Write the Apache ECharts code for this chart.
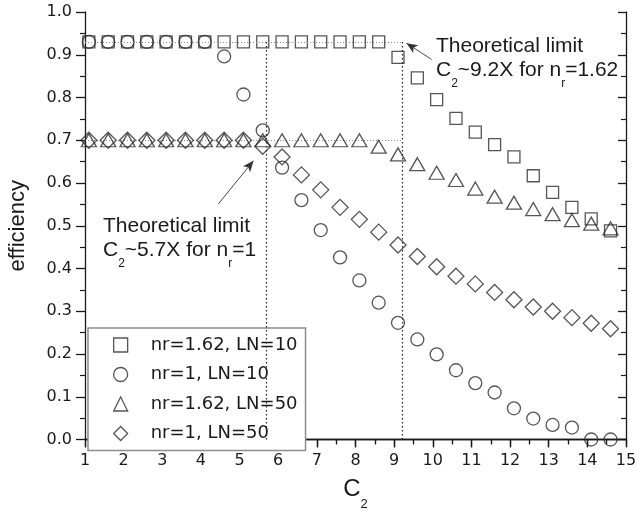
<!DOCTYPE html>
<html>
<head>
<meta charset="utf-8">
<script src="https://cdn.jsdelivr.net/npm/echarts@6/dist/echarts.min.js"></script>
<style>html,body{margin:0;padding:0;background:#fff}#c{width:636px;height:518px}</style>
</head>
<body>
<div id="c"></div>
<script>
// C2 sample positions
const c2Values = [1.1,1.6,2.1,2.6,3.1,3.6,4.1,4.6,5.1,5.6,6.1,6.6,7.1,7.6,8.1,8.6,9.1,9.6,10.1,10.6,11.1,11.6,12.1,12.6,13.1,13.6,14.1,14.6];
// nr=1.62, LN=10 (squares)
const effNr162LN10 = [0.93,0.93,0.93,0.93,0.93,0.93,0.93,0.93,0.93,0.93,0.93,0.93,0.93,0.93,0.93,0.93,0.894,0.846,0.795,0.751,0.719,0.690,0.661,0.617,0.578,0.543,0.516,0.488];
// nr=1, LN=10 (circles)
const effNr1LN10 = [0.93,0.93,0.93,0.93,0.93,0.93,0.93,0.896,0.807,0.723,0.636,0.560,0.490,0.426,0.372,0.320,0.273,0.234,0.199,0.162,0.132,0.110,0.073,0.049,0.034,0.028,0.0,0.0];
// nr=1.62, LN=50 (triangles)
const effNr162LN50 = [0.70,0.70,0.70,0.70,0.70,0.70,0.70,0.70,0.70,0.70,0.70,0.70,0.70,0.70,0.70,0.685,0.667,0.644,0.624,0.607,0.587,0.568,0.554,0.539,0.527,0.513,0.505,0.494];
// nr=1, LN=50 (diamonds)
const effNr1LN50 = [0.70,0.70,0.70,0.70,0.70,0.70,0.70,0.70,0.70,0.686,0.661,0.619,0.584,0.543,0.515,0.485,0.455,0.428,0.404,0.382,0.364,0.344,0.327,0.310,0.300,0.285,0.272,0.259];

const seriesNames = ['nr=1.62, LN=10','nr=1, LN=10','nr=1.62, LN=50','nr=1, LN=50'];
const xTicks = [1,2,3,4,5,6,7,8,9,10,11,12,13,14,15];
const yTicks = [0,0.1,0.2,0.3,0.4,0.5,0.6,0.7,0.8,0.9,1.0];
const limitNr1 = 5.7, limitNr162 = 9.2;
const plateauNr162 = 0.93, plateauNr1 = 0.70;
// annotation arrows: [tail, head] in data coordinates
const arrowNr1 = [[4.45,0.551],[5.36,0.652]];
const arrowNr162 = [[9.97,0.889],[9.32,0.927]];

const INK = '#1a1a1a';
const chart = echarts.init(document.getElementById('c'), null, {renderer:'canvas'});
const pts = arr => c2Values.map((x,i)=>[x, arr[i]]);
const hollow = {color:'transparent', borderColor:'#2a2a2a', borderWidth:1.3};

const tickFont = {fontFamily:'DejaVu Sans', fontSize:16, color:INK};
const subRich = {
  t:{fontFamily:'Liberation Sans',fontSize:21,fill:INK,color:INK,lineHeight:24,verticalAlign:'top'},
  s:{fontFamily:'Liberation Sans',fontSize:12,fill:INK,color:INK,lineHeight:30,verticalAlign:'bottom'}
};

const option = {
  animation:false,
  backgroundColor:'#fff',
  grid:{left:85, right:10, top:12, bottom:78.5, outerBoundsMode:'none', containLabel:false},
  xAxis:[
    {type:'value', min:xTicks[0], max:xTicks[xTicks.length-1], interval:1, position:'bottom',
     axisLine:{lineStyle:{color:INK,width:1.3}},
     axisTick:{inside:false,length:7,lineStyle:{color:INK,width:1.3}},
     minorTick:{show:true,splitNumber:2,length:4,lineStyle:{color:INK,width:1.2}},
     axisLabel:{...tickFont, margin:13},
     splitLine:{show:false},
     name:'{c|C}{s|2}', nameLocation:'middle', nameGap:38,
     nameTextStyle:{rich:{c:{fontFamily:'Liberation Sans',fontSize:24,color:INK,lineHeight:28,verticalAlign:'top'},
                          s:{fontFamily:'Liberation Sans',fontSize:13,color:INK,lineHeight:54}}}},
    {type:'value', min:xTicks[0], max:xTicks[xTicks.length-1], interval:1, position:'top',
     axisLine:{lineStyle:{color:INK,width:1.3}},
     axisTick:{inside:true,length:8,lineStyle:{color:INK,width:1.3}},
     minorTick:{show:true,splitNumber:2,length:5,lineStyle:{color:INK,width:1.2}},
     axisLabel:{show:false}, splitLine:{show:false}}
  ],
  yAxis:[
    {type:'value', min:yTicks[0], max:yTicks[yTicks.length-1], interval:0.1, position:'left',
     axisLine:{show:true,lineStyle:{color:INK,width:1.3}},
     axisTick:{show:true,inside:false,length:9,lineStyle:{color:INK,width:1.3}},
     minorTick:{show:true,splitNumber:2,length:5,lineStyle:{color:INK,width:1.2}},
     axisLabel:{...tickFont, margin:13, formatter:v=>v.toFixed(1)},
     splitLine:{show:false},
     name:'efficiency', nameLocation:'middle', nameGap:56, nameRotate:90,
     nameTextStyle:{fontFamily:'Liberation Sans',fontSize:22,color:INK}},
    {type:'value', min:yTicks[0], max:yTicks[yTicks.length-1], interval:0.1, position:'right',
     axisLine:{show:true,lineStyle:{color:INK,width:1.3}},
     axisTick:{show:true,inside:true,length:8,lineStyle:{color:INK,width:1.3}},
     minorTick:{show:true,splitNumber:2,length:5,lineStyle:{color:INK,width:1.2}},
     axisLabel:{show:false}, splitLine:{show:false}}
  ],
  legend:{
    orient:'vertical', left:88, top:328,
    padding:[8,8,8,25], itemGap:11.5, itemWidth:14, itemHeight:14,
    backgroundColor:'#fff', borderColor:'#8c8c8c', borderWidth:1.5,
    itemStyle:{color:'transparent', borderColor:'#2a2a2a', borderWidth:1.3},
    textStyle:{fontFamily:'DejaVu Sans', fontSize:18, color:INK, padding:[0,0,0,18]},
    data:seriesNames
  },
  series:[
    {name:seriesNames[0], type:'scatter', symbol:'rect', symbolSize:12, itemStyle:hollow, data:pts(effNr162LN10), z:3,
     markLine:{silent:true, symbol:['none','none'], label:{show:false}, animation:false,
       data:[
         [{coord:[xTicks[0],plateauNr162], lineStyle:{color:'#8a8a8a',type:[1,2],width:1}},{coord:[limitNr162,plateauNr162]}],
         [{coord:[xTicks[0],plateauNr1], lineStyle:{color:'#8a8a8a',type:[1,2],width:1}},{coord:[limitNr162,plateauNr1]}],
         [{coord:[limitNr1,0], lineStyle:{color:'#222',type:[1.5,2.5],width:1.2}},{coord:[limitNr1,plateauNr162]}],
         [{coord:[limitNr162,0], lineStyle:{color:'#222',type:[1.5,2.5],width:1.2}},{coord:[limitNr162,plateauNr162]}]
       ]}},
    {name:seriesNames[1], type:'scatter', symbol:'circle', symbolSize:13, itemStyle:hollow, data:pts(effNr1LN10), z:4},
    {name:seriesNames[2], type:'scatter', symbol:'triangle', symbolSize:[15,13], itemStyle:hollow, data:pts(effNr162LN50), z:5},
    {name:seriesNames[3], type:'scatter', symbol:'diamond', symbolSize:[16,16], itemStyle:hollow, data:pts(effNr1LN50), z:6},
    {name:'annotations', type:'scatter', data:[], itemStyle:{color:'#222'}, z:7,
     markLine:{silent:true, symbol:['none','arrow'], symbolSize:[7,11], label:{show:false}, animation:false,
       itemStyle:{color:'#222'},
       lineStyle:{color:'#333',type:'solid',width:0.9},
       data:[
         [{coord:arrowNr1[0]},{coord:arrowNr1[1]}],
         [{coord:arrowNr162[0]},{coord:arrowNr162[1]}]
       ]}}
  ],
  graphic:[
    {type:'text', left:103, top:216, style:{text:'Theoretical limit', fontFamily:'Liberation Sans', fontSize:21, fill:INK}, z:100},
    {type:'text', left:103, top:240, style:{text:'{t|C}{s|2}{t|~5.7X for n}{s|r}{t|=1}', rich:subRich}, z:100},
    {type:'text', left:436, top:36, style:{text:'Theoretical limit', fontFamily:'Liberation Sans', fontSize:21, fill:INK}, z:100},
    {type:'text', left:436, top:60, style:{text:'{t|C}{s|2}{t|~9.2X for n}{s|r}{t|=1.62}', rich:subRich}, z:100}
  ]
};
chart.setOption(option);
</script>
</body>
</html>
